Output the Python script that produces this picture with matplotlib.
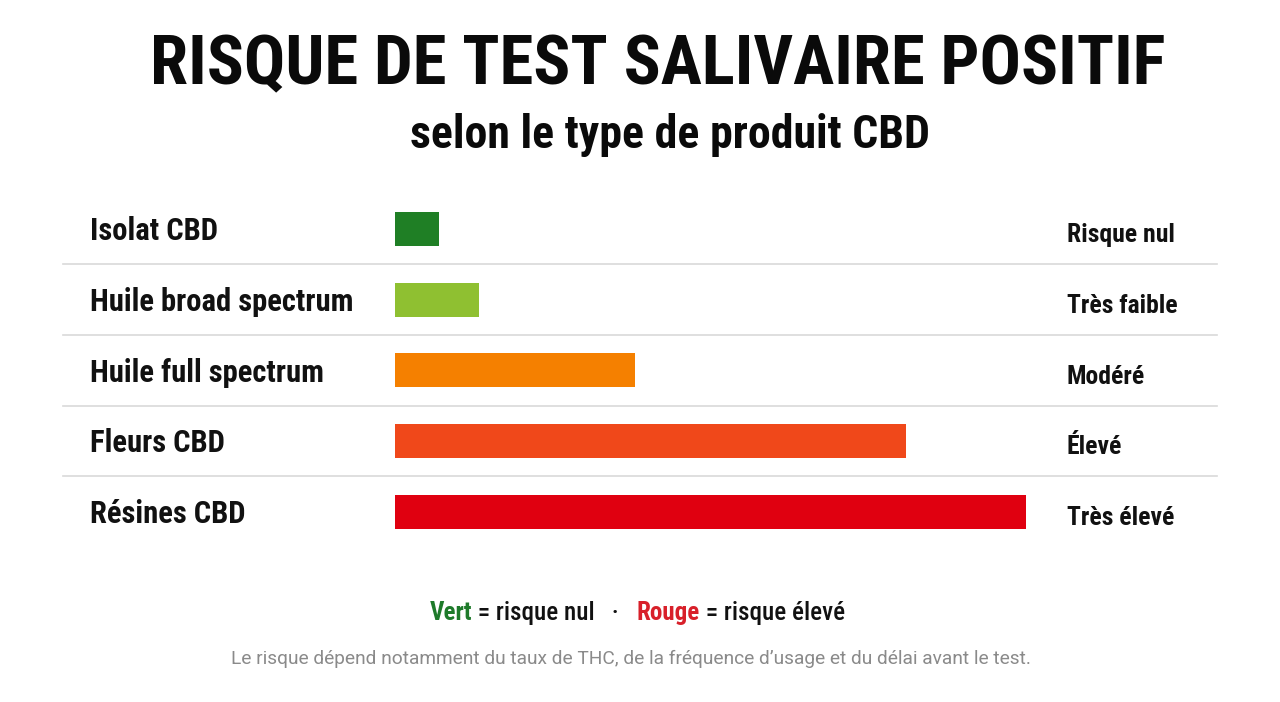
import matplotlib
matplotlib.use("Agg")
import matplotlib.pyplot as plt
from matplotlib import font_manager
from matplotlib.transforms import blended_transform_factory

# ---- data ----
categories = ["Isolat CBD", "Huile broad spectrum", "Huile full spectrum", "Fleurs CBD", "Résines CBD"]
risk_values = [7, 13.3, 38, 81, 100]
risk_labels = ["Risque nul", "Très faible", "Modéré", "Élevé", "Très élevé"]
bar_colors = ["#1f7f25", "#8fc031", "#f58000", "#f0481a", "#e00010"]

title = "RISQUE DE TEST SALIVAIRE POSITIF"
subtitle = "selon le type de produit CBD"
footnote = "Le risque dépend notamment du taux de THC, de la fréquence d\u2019usage et du délai avant le test."

# ---- fonts ----
names = {f.name for f in font_manager.fontManager.ttflist}
def pick(cands):
    for c in cands:
        if c in names:
            return c
    return "DejaVu Sans"
cond = pick(["Roboto Condensed", "Liberation Sans Narrow", "DejaVu Sans Condensed", "Roboto", "DejaVu Sans"])
reg = pick(["Roboto", "Noto Sans", "DejaVu Sans"])
plt.rcParams["font.family"] = [cond, "DejaVu Sans"]

W, H = 1280, 702
fig = plt.figure(figsize=(W / 100, H / 100), dpi=100)
fig.patch.set_facecolor("white")

# axes: full width, x scale so that 0 -> 395 px and 100 -> 1026 px
px_per = (1026 - 395) / 100.0
row0, step = 229, 70.7
top_px = row0 - step / 2
bot_px = row0 + step * 4.5
ax = fig.add_axes([0, 1 - bot_px / H, 1, (bot_px - top_px) / H])
ax.set_xlim(-395 / px_per, (W - 395) / px_per)
ax.set_ylim(4.5, -0.5)
ax.axis("off")

ypos = list(range(len(categories)))
ax.barh(ypos, risk_values, height=34 / step, color=bar_colors, left=0)

tr = blended_transform_factory(fig.transFigure, ax.transData)
cat_texts, lab_texts = [], []
for i, (c, l) in enumerate(zip(categories, risk_labels)):
    cat_texts.append(ax.text(90 / W, i + 0.03, c, transform=tr, ha="left", va="center",
                             fontsize=21, fontweight="bold", stretch="condensed", color="#111111"))
    lab_texts.append(ax.text(1067 / W, i + 0.09, l, transform=tr, ha="left", va="center",
                             fontsize=17, fontweight="bold", stretch="condensed", color="#111111"))
for i in range(len(categories) - 1):
    ax.plot([63 / W, 1217 / W], [i + 0.5, i + 0.5], transform=tr,
            color="#d9d9d9", lw=1.2, clip_on=False)

renderer = fig.canvas.get_renderer()

def fit(t, target_w):
    bb = t.get_window_extent(renderer)
    t.set_fontsize(t.get_fontsize() * target_w / bb.width)

def fit_group(ts, target_total):
    tot = sum(t.get_window_extent(renderer).width for t in ts)
    for t in ts:
        t.set_fontsize(t.get_fontsize() * target_total / tot)

t1 = fig.text(658 / W, 1 - 66 / H, title, ha="center", va="center", fontsize=58,
              fontweight="heavy", stretch="condensed", color="#0a0a0a")
fit(t1, 1015)
t2 = fig.text(670 / W, 1 - 135 / H, subtitle, ha="center", va="center", fontsize=28,
              fontweight="bold", stretch="condensed", color="#0a0a0a")
fit(t2, 520)

fit_group(cat_texts, 918)
fit_group(lab_texts, 459)

# legend line
parts = [("Vert", "#1e7a2a"), (" = risque nul   \u00b7   ", "#111111"),
         ("Rouge", "#d8202a"), (" = risque élevé", "#111111")]
x = 430
ly = 1 - 613 / H
pieces = []
for txt, col in parts:
    t = fig.text(x / W, ly, txt, ha="left", va="center", fontsize=17,
                 fontweight="bold" if col != "#111111" else "medium",
                 stretch="condensed", color=col)
    pieces.append(t)
    x += t.get_window_extent(renderer).width
total = x - 430
sc = 415 / total
x = 430
for t in pieces:
    t.set_fontsize(t.get_fontsize() * sc)
    t.set_x(x / W)
    x += t.get_window_extent(renderer).width

t3 = fig.text(631 / W, 1 - 659 / H, footnote, ha="center", va="center", fontsize=13,
              color="#8a8a8a", family=[reg, "DejaVu Sans"])
fit(t3, 802)

fig.savefig("out.png", dpi=100, facecolor="white")
